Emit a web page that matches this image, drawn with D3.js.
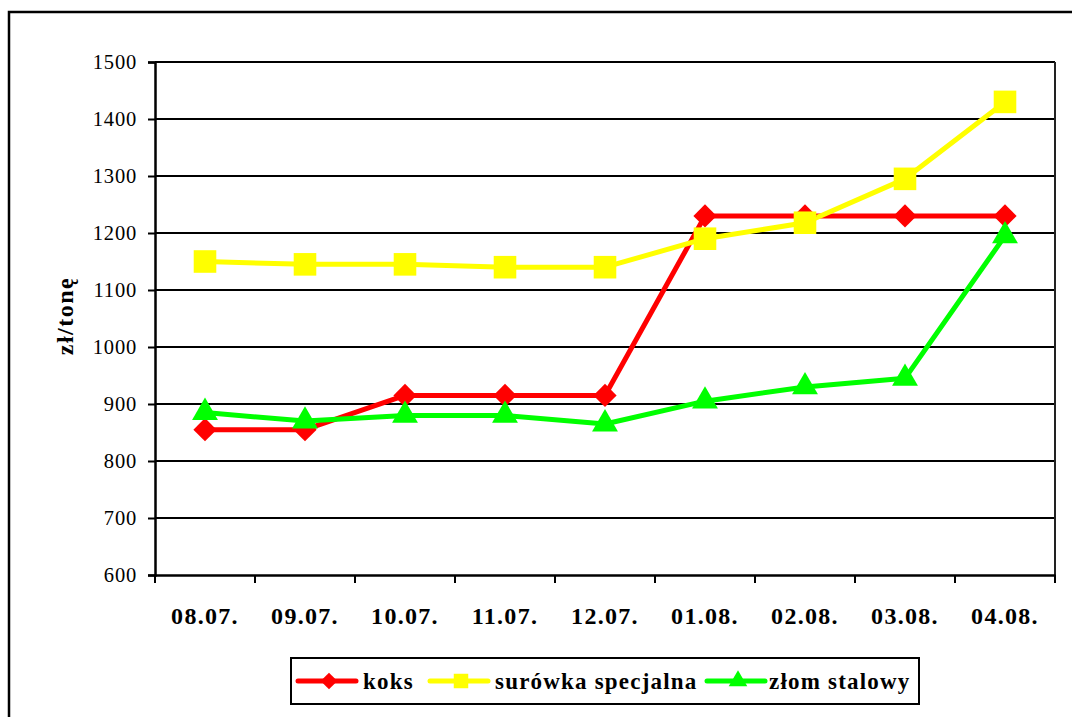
<!DOCTYPE html>
<html><head><meta charset="utf-8">
<script src="https://cdn.jsdelivr.net/npm/d3@7/dist/d3.min.js"></script>
<style>
body{margin:0;background:#fff}svg{display:block}
svg text{font-family:"Liberation Serif","Times New Roman",serif;fill:#000}
.yl{font-size:20.5px;letter-spacing:0.8px}
.xl{font-size:24px;font-weight:bold;letter-spacing:1.3px}
.tt{font-size:24px;font-weight:bold;letter-spacing:1.5px}
.lt{font-size:23px;font-weight:bold;letter-spacing:1.2px}
</style>
</head><body>
<svg id="c" width="1072" height="717"></svg>
<script>
const categories = ["08.07.","09.07.","10.07.","11.07.","12.07.","01.08.","02.08.","03.08.","04.08."];
const koks = [855,855,915,915,915,1230,1230,1230,1230];
const surowka = [1150,1145,1145,1140,1140,1190,1218,1295,1430];
const zlom = [885,870,880,880,865,905,930,945,1195];
const yTicks = [600,700,800,900,1000,1100,1200,1300,1400,1500];
const seriesNames = ["koks","surówka specjalna","złom stalowy"];

const svg = d3.select("#c");
const L=155,R=1055,T=62,B=575;
const x = d3.scaleBand().domain(categories).range([L,R]);
const y = d3.scaleLinear().domain([600,1500]).range([B,T]);

svg.append("rect").attr("x",9).attr("y",12).attr("width",1072).attr("height",720)
  .attr("fill","none").attr("stroke","#000").attr("stroke-width",2.5);

svg.append("g").selectAll("line").data(yTicks.slice(1)).join("line")
  .attr("x1",L).attr("x2",R).attr("y1",d=>y(d)).attr("y2",d=>y(d))
  .attr("stroke","#000").attr("stroke-width",1.8);
svg.append("line").attr("x1",R).attr("x2",R).attr("y1",T).attr("y2",B).attr("stroke","#222").attr("stroke-width",2);

const ya = svg.append("g").attr("transform",`translate(${L},0)`)
  .call(d3.axisLeft(y).tickValues(yTicks).tickSize(7).tickPadding(11).tickFormat(d3.format("d")));
ya.attr("font-size",null).attr("font-family",null);
ya.select(".domain").attr("stroke","#000").attr("stroke-width",2.5);
ya.selectAll(".tick line").attr("stroke","#000").attr("stroke-width",2);
ya.selectAll("text").attr("class","yl");

const xa = svg.append("g").attr("transform",`translate(0,${B})`)
  .call(d3.axisBottom(x).tickSize(0).tickPadding(32));
xa.attr("font-size",null).attr("font-family",null);
xa.select(".domain").attr("stroke","#000").attr("stroke-width",2.5);
xa.selectAll("text").attr("class","xl");
const bounds = categories.map(c=>x(c)).concat([R]);
svg.append("g").selectAll("line").data(bounds).join("line")
  .attr("x1",d=>d).attr("x2",d=>d).attr("y1",B).attr("y2",B+8)
  .attr("stroke","#000").attr("stroke-width",2);

svg.append("text").attr("class","tt").attr("transform","translate(73,316) rotate(-90)")
  .attr("text-anchor","middle").text("zł/tonę");

const cx = d => x(d)+x.bandwidth()/2;
const line = d3.line().x((d,i)=>cx(categories[i])).y(d=>y(d));

const series = [
  {name:seriesNames[0], data:koks, color:"#ff0000", sym:d3.symbolSquare, size:270, rot:45, lsize:140},
  {name:seriesNames[1], data:surowka, color:"#ffff00", sym:d3.symbolSquare, size:510, rot:0, lsize:210},
  {name:seriesNames[2], data:zlom, color:"#00ff00", sym:d3.symbolTriangle, size:290, rot:0, lsize:150}
];
series.forEach(s=>{
  svg.append("path").datum(s.data).attr("d",line).attr("fill","none")
    .attr("stroke",s.color).attr("stroke-width",5).attr("stroke-linejoin","round");
});
series.forEach(s=>{
  svg.append("g").selectAll("path").data(s.data).join("path")
    .attr("d",d3.symbol().type(s.sym).size(s.size))
    .attr("transform",(d,i)=>`translate(${cx(categories[i])},${y(d)}) rotate(${s.rot})`)
    .attr("fill",s.color);
});

const lg = svg.append("g");
lg.append("rect").attr("x",291).attr("y",658).attr("width",628).attr("height",46)
  .attr("fill","#fff").attr("stroke","#000").attr("stroke-width",2);
const lx = [298,430,707];
const tx = [363,495,769];
series.forEach((s,i)=>{
  const g = lg.append("g");
  g.append("line").attr("x1",lx[i]).attr("x2",lx[i]+58).attr("y1",681).attr("y2",681)
    .attr("stroke",s.color).attr("stroke-width",5).attr("stroke-linecap","round");
  g.append("path").attr("d",d3.symbol().type(s.sym).size(s.lsize))
    .attr("transform",`translate(${lx[i]+31},681) rotate(${s.rot})`).attr("fill",s.color);
  g.append("text").attr("class","lt").attr("x",tx[i]).attr("y",689).text(s.name);
});
</script>
</body></html>
